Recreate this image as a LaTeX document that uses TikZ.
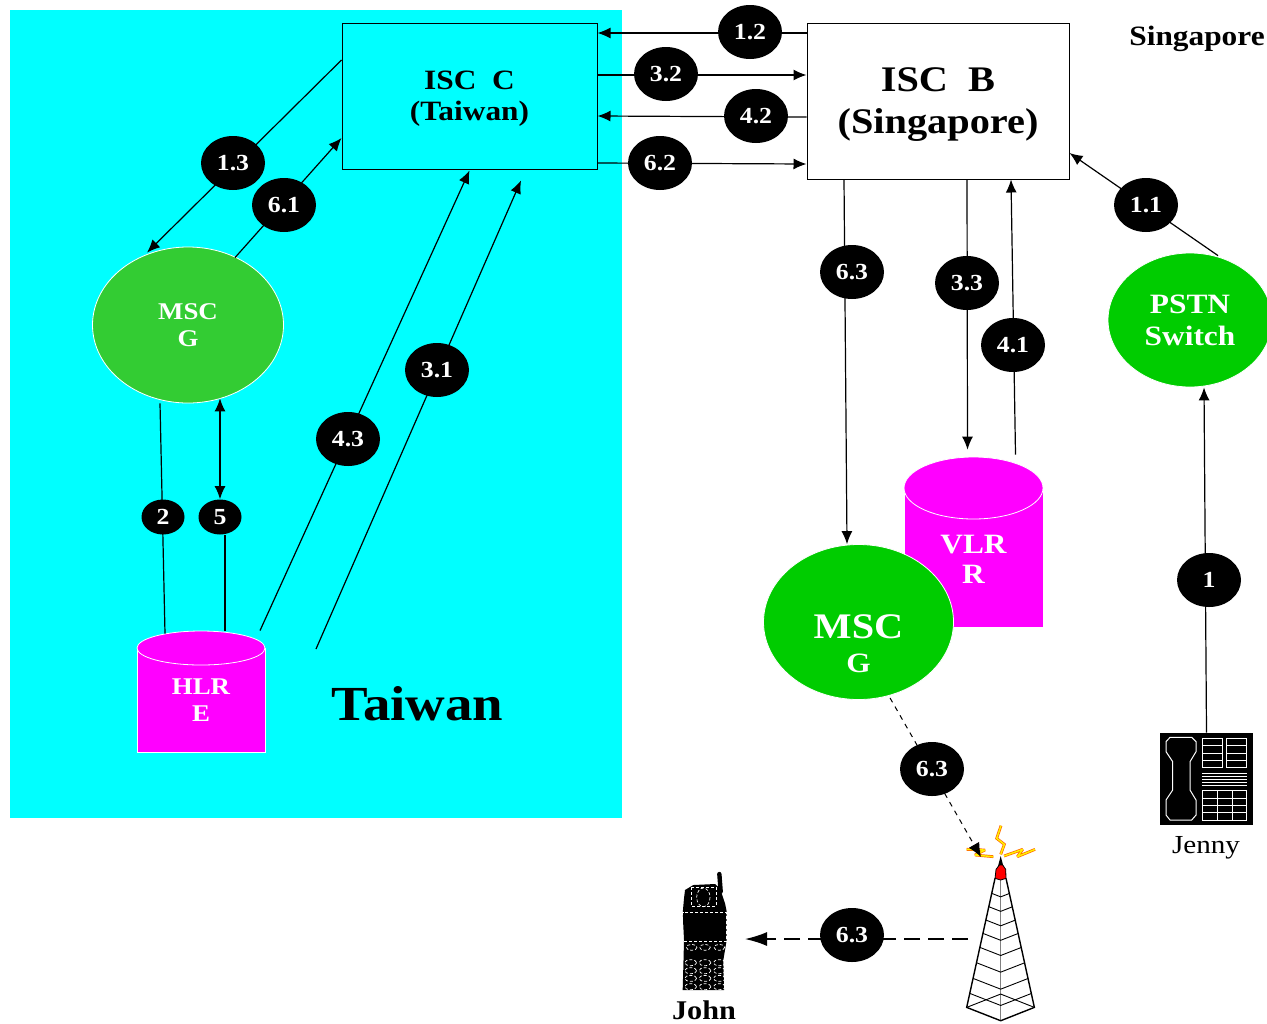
\documentclass[tikz,border=0pt]{standalone}
\usepackage{fontspec}
\setmainfont{Liberation Serif}[FakeStretch=1.12]
\usepackage{xcolor}
\usepackage{tikz}
\usetikzlibrary{arrows.meta,shapes.geometric}
\definecolor{taiwanC}{HTML}{00FFFF}
\definecolor{mscA}{HTML}{33CC33}
\definecolor{mscB}{HTML}{00CC00}
\definecolor{dbM}{HTML}{FF00FF}
\tikzset{
  lbl/.style 2 args={align=center, inner sep=0pt, font=\bfseries\fontsize{#1}{#2}\selectfont},
  isc/.style={rectangle, draw=black, line width=0.5pt, inner sep=0pt},
  msc/.style={ellipse, draw=white, line width=0.4pt, inner sep=0pt, text=white},
  dbbody/.style={rectangle, draw=white, line width=0.4pt, fill=dbM, inner sep=0pt, text=white},
  dbtop/.style={ellipse, draw=white, line width=0.4pt, fill=dbM, inner sep=0pt},
  badge/.style={ellipse, fill=black, text=white, inner sep=0pt, minimum width=32pt, minimum height=27pt,
                font=\bfseries\fontsize{11.5}{12}\selectfont},
  smallbadge/.style={badge, minimum width=21.5pt, minimum height=17.5pt},
  wire/.style={line width=0.6pt, draw=black},
  arr/.style={wire, -{Latex[length=6.5pt,width=5.5pt]}},
  dbl/.style={wire, {Latex[length=6.5pt,width=5.5pt]}-{Latex[length=6.5pt,width=5.5pt]}},
  dashA/.style={line width=0.5pt, dash pattern=on 2.5pt off 2.5pt, -{Latex[length=7pt,width=6pt]}},
  dashB/.style={line width=0.7pt, dash pattern=on 8pt off 4pt, -{Latex[length=11pt,width=7pt]}},
  boltA/.style={draw=orange!80!red, line width=1.4pt, miter limit=2},
  boltB/.style={draw=yellow, line width=0.7pt, miter limit=2},
}
\begin{document}
\begin{tikzpicture}[x=0.5pt,y=-0.5pt]
  \useasboundingbox (0,0) rectangle (1267,1023);
  % regions
  \fill[taiwanC] (10,10) rectangle (622,818);
  \node[lbl={24.5}{26}] (taiwan) at (417.5,704) {Taiwan};
  \node[lbl={14}{15}] (singapore) at (1197,39) {Singapore};
  % exchanges
  \node[isc, fill=taiwanC, minimum width=127.5pt, minimum height=73pt, lbl={14}{15.5}] (iscc) at (469.5,96) {\rule{0pt}{12.3pt}ISC\ \ C\\(Taiwan)};
  \node[isc, fill=white, minimum width=131pt, minimum height=78pt, lbl={18}{21}] (iscb) at (938,101) {\rule{0pt}{15.5pt}ISC\ \ B\\(Singapore)};
  \node[msc, fill=mscA, minimum width=95.5pt, minimum height=78pt, lbl={12}{13.5}] (mscl) at (188,325) {MSC\\G};
  \node[msc, fill=mscB, minimum width=82pt, minimum height=67pt, lbl={14}{16}] (pstn) at (1190,320) {PSTN\\Switch};
  % databases
  \node[dbbody, minimum width=64pt, minimum height=52pt, lbl={12}{13.5}] (hlr) at (201,700) {HLR\\E};
  \node[dbtop, minimum width=64pt, minimum height=17pt] (hlrtop) at (201,648) {};
  \node[dbbody, minimum width=69.5pt, minimum height=69.5pt, lbl={14}{15}] (vlr) at (973.5,557.5) {\rule{0pt}{11.3pt}VLR\\R};
  \node[dbtop, minimum width=69.5pt, minimum height=31pt] (vlrtop) at (973.5,488) {};
  \node[msc, fill=mscB, minimum width=95pt, minimum height=77.5pt] (mscr) at (858.5,622) {};
  \node[lbl={18}{17}, text=white] (mscrtext) at (858.5,644) {MSC\\{\fontsize{14}{17}\selectfont G}};
  % desk phone
  \node[rectangle, fill=black, minimum width=46.5pt, minimum height=46pt, inner sep=0pt] (phone) at (1206.5,779) {};
  \begin{scope}[shift={(1140,720)},x=0.1667pt,y=-0.1667pt,line width=0.5pt]
    \draw[white] (78,65) -- (90,52) -- (155,52) -- (168,65) -- (168,95) -- (150,125) -- (150,210) -- (168,240)
      -- (168,285) -- (155,300) -- (90,300) -- (78,285) -- (78,240) -- (98,210) -- (98,125) -- (78,95) -- cycle;
    \foreach \xa/\xb in {188/247,260/320} {
      \draw[white] (\xa,55) rectangle (\xb,143);
      \foreach \yy in {77,99,121} \draw[white] (\xa,\yy) -- (\xb,\yy);
    }
    \foreach \yy in {160,170,178,187,197} \draw[white] (187,\yy) -- (320,\yy);
    \draw[white] (188,212) rectangle (320,300);
    \foreach \xx in {232,277} \draw[white] (\xx,212) -- (\xx,300);
    \foreach \yy in {235,257,278} \draw[white] (188,\yy) -- (320,\yy);
  \end{scope}
  \node[inner sep=0pt, font=\fontsize{13}{14}\selectfont] (jenny) at (1206,848) {Jenny};
  % mobile
  \begin{scope}[shift={(660,860)},x=0.1667pt,y=-0.1667pt]
    \draw[line width=2.2pt, line cap=round] (178,42) -- (182,95);
    \fill[black] (72,115) -- (75,90) -- (100,75) -- (165,72) -- (180,85) -- (195,130) -- (200,155) -- (200,240)
      -- (190,300) -- (192,390) -- (68,390) -- (70,320) -- (72,240) -- (68,160) -- cycle;
    \begin{scope}[draw=white, line width=0.35pt, dash pattern=on 1.5pt off 1pt]
      \draw (95,82) rectangle (168,140);
      \draw (130,112) ellipse (20 and 28);
      \draw (68,157) rectangle (200,243);
      \foreach \xx in {95,135,178} \draw (\xx,262) ellipse (16 and 9);
      \foreach \xx in {92,135,178} \foreach \yy in {308,332,355,380} \draw (\xx,\yy) ellipse (18 and 9);
    \end{scope}
  \end{scope}
  \node[lbl={13.5}{14}] (john) at (704,1010) {John};
  % tower
  \begin{scope}[shift={(940,810)},x=0.1667pt,y=-0.1667pt]
    \draw[gray, line width=0.6pt] (182,205) -- (182,632);
    \draw[line width=0.7pt] (165,205) -- (80,592) -- (182,632) -- (283,592) -- (198,205);
    \draw[line width=0.45pt] (80,592) -- (182,552) -- (283,592);
    \foreach \yl in {250,290,330,370,412,458,505,550} {
      \pgfmathsetmacro\dx{17+0.2196*(\yl-205)}
      \draw[line width=0.45pt] ({182-\dx},\yl) -- (182,{\yl+\dx*0.39}) -- ({182+\dx},\yl);
    }
    \fill[black] (182,138) -- (173,172) -- (191,172) -- cycle;
    \draw[black, fill=red, line width=0.4pt] (165,205) -- (168,178) -- (178,165) -- (188,165) -- (197,178) -- (198,205) -- (182,210) -- cycle;
    \foreach \st in {boltA,boltB} {
      \draw[\st] (183,47) -- (170,85) -- (193,103) -- (182,133);
      \draw[\st] (192,138) -- (248,118) -- (232,140) -- (285,118);
      \draw[\st] (80,118) -- (135,120) -- (105,135) -- (160,140);
    }
  \end{scope}
  \coordinate (towertop) at (981,857);
  \coordinate (towerin) at (968,939);
  \coordinate (johnin) at (745,939);
  \coordinate (hlrout) at (316,649);
  % connectors
  \draw[arr] (phone.north) -- ([xshift=7pt]pstn.south);
  \draw[arr] ([xshift=14pt,yshift=-1.5pt]pstn.north) -- ([yshift=-26pt]iscb.east);
  \draw[arr] ([yshift=34pt]iscb.west) -- ([yshift=31.5pt]iscc.east);
  \draw[arr] ([yshift=10.5pt]iscc.east) -- ([yshift=13pt]iscb.west);
  \draw[arr] ([yshift=-8pt]iscb.west) -- ([yshift=-10pt]iscc.east);
  \draw[arr] ([yshift=-33.5pt]iscc.east) -- ([yshift=-31.5pt]iscb.west);
  \draw[arr] ([xshift=-47pt]iscb.south) -- ([xshift=-5.75pt]mscr.north);
  \draw[arr] ([xshift=14.5pt]iscb.south) -- ([xshift=-3pt,yshift=3.5pt]vlrtop.north);
  \draw[arr] ([xshift=21pt,yshift=1pt]vlrtop.north) -- ([xshift=36.5pt]iscb.south);
  \draw[arr] ([yshift=18pt]iscc.west) -- ([xshift=-20.5pt,yshift=-3pt]mscl.north);
  \draw[arr] ([xshift=23.5pt,yshift=-5.5pt]mscl.north) -- ([yshift=-21pt]iscc.west);
  \draw[wire] ([xshift=-14pt]mscl.south) -- ([xshift=-18pt,yshift=-1.5pt]hlrtop.north);
  \draw[arr] ([xshift=29.5pt]hlrtop.north) -- ([yshift=-0.5pt]iscc.south);
  \draw[arr] (hlrout) -- ([xshift=25.75pt,yshift=-5.5pt]iscc.south);
  \draw[dashA] ([xshift=15.75pt,yshift=1pt]mscr.south) -- (towertop);
  \draw[dashB] (towerin) -- (johnin);
  % numbered labels
  \node[badge] (b1) at (1209,580) {1};
  \node[badge] (b11) at (1146,205) {1.1};
  \node[badge] (b12) at (750,32) {1.2};
  \node[badge] (b32) at (666,74) {3.2};
  \node[badge] (b42) at (756,116) {4.2};
  \node[badge] (b62) at (660,163) {6.2};
  \node[badge] (b63) at (852,272) {6.3};
  \node[badge] (b33) at (967,283) {3.3};
  \node[badge] (b41) at (1013,345) {4.1};
  \node[badge] (b13) at (233,163) {1.3};
  \node[badge] (b61) at (284,205) {6.1};
  \node[badge] (b43) at (348,439) {4.3};
  \node[badge] (b31) at (437,370) {3.1};
  \node[badge] (b63b) at (932,769) {6.3};
  \node[badge] (b63c) at (852,935) {6.3};
  \node[smallbadge] (b2) at (163,517) {2};
  \node[smallbadge] (b5) at (220,517) {5};
  \draw[dbl] ([xshift=16pt,yshift=2.5pt]mscl.south) -- (b5.north);
  \draw[wire] ([xshift=2.5pt]b5.south) -- ([xshift=12pt]hlrtop.north);
\end{tikzpicture}
\end{document}
